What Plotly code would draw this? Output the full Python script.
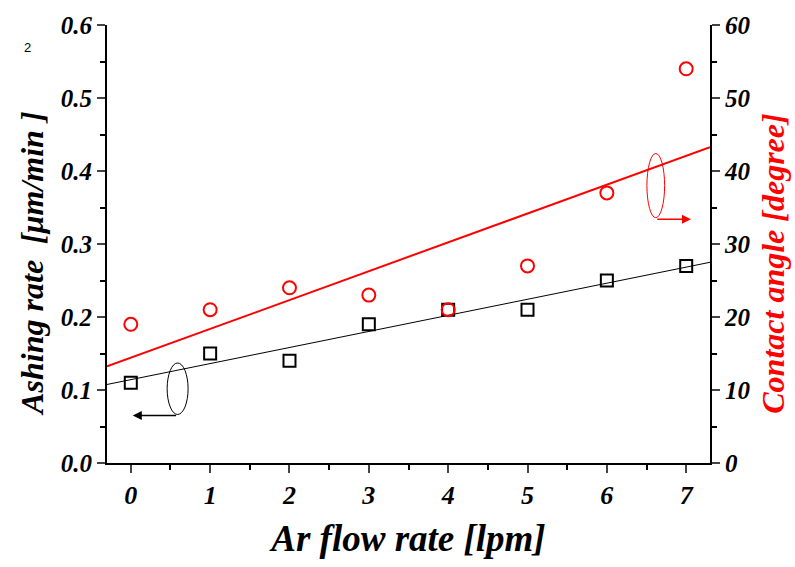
import numpy as np
import plotly.graph_objects as go

# Data
flow_rate = [0, 1, 2, 3, 4, 5, 6, 7]
ashing_rate = [0.11, 0.15, 0.14, 0.19, 0.21, 0.21, 0.25, 0.27]
contact_angle = [19, 21, 24, 23, 21, 27, 37, 54]

x_range = [-0.3, 7.3]
y1_range = [0, 0.6]
y2_range = [0, 60]

# Linear fits
p1 = np.polyfit(flow_rate, ashing_rate, 1)
p2 = np.polyfit(flow_rate, contact_angle, 1)
xf = np.array(x_range)

FONT = "Liberation Serif"
NB = "\u00a0"

# plot area in pixels (for paper-coordinate annotations)
L, R, T, B = 107, 85, 19, 104
PW, PH = 795 - L - R, 567 - T - B


def px(xp):
    return (xp - L) / PW


def py(yp):
    return (567 - B - yp) / PH


fig = go.Figure()
fig.add_trace(go.Scatter(x=xf, y=np.polyval(p2, xf), mode="lines",
                         line=dict(color="#ff0000", width=2), yaxis="y2", showlegend=False))
fig.add_trace(go.Scatter(x=xf, y=np.polyval(p1, xf), mode="lines",
                         line=dict(color="black", width=1), showlegend=False))
fig.add_trace(go.Scatter(x=flow_rate, y=ashing_rate, mode="markers",
                         marker=dict(symbol="square-open", size=12, color="black",
                                     line=dict(width=2, color="black")), showlegend=False))
fig.add_trace(go.Scatter(x=flow_rate, y=contact_angle, mode="markers", yaxis="y2",
                         marker=dict(symbol="circle-open", size=13, color="#ff0000",
                                     line=dict(width=2, color="#ff0000")), showlegend=False))


def bfont(size, color="black"):
    return dict(family=FONT, size=size, color=color, weight="bold", style="italic")


fig.update_layout(
    width=795, height=567,
    margin=dict(l=L, r=R, t=T, b=B),
    plot_bgcolor="white", paper_bgcolor="white",
    xaxis=dict(range=x_range, tickvals=flow_rate, ticks="outside", ticklen=8, tickwidth=2,
               showline=True, linecolor="black", linewidth=2, showgrid=False, zeroline=False,
               tickfont=bfont(26),
               minor=dict(dtick=0.5, tick0=0.5, ticks="outside", ticklen=5, tickwidth=2, tickcolor="black"),
               title=dict(text="Ar flow rate [lpm]", font=bfont(37), standoff=16)),
    yaxis=dict(range=y1_range, dtick=0.1, tickformat=".1f", ticks="outside", ticklen=8, tickwidth=2,
               showline=True, linecolor="black", linewidth=2, showgrid=False, zeroline=False,
               tickfont=bfont(25),
               minor=dict(dtick=0.05, ticks="outside", ticklen=5, tickwidth=2, tickcolor="black")),
    yaxis2=dict(range=y2_range, dtick=10, overlaying="y", side="right", ticks="outside", ticklen=8, tickwidth=2,
                showline=True, linecolor="black", linewidth=2, showgrid=False, zeroline=False,
                tickfont=bfont(25),
                minor=dict(dtick=5, ticks="outside", ticklen=5, tickwidth=2, tickcolor="black")),
)

# Y axis titles as rotated annotations
fig.add_annotation(xref="paper", yref="paper", x=px(32), y=py(261), xanchor="center", yanchor="middle",
                   textangle=-90, showarrow=False, text=f"Ashing rate {NB}[\u03bcm/min{NB}]", font=bfont(32))
fig.add_annotation(xref="paper", yref="paper", x=px(773), y=py(261), xanchor="center", yanchor="middle",
                   textangle=-90, showarrow=False, text="Contact angle [degree]", font=bfont(32, "#ff0000"))

# Ellipses marking which axis each series belongs to
fig.add_shape(type="circle", xref="x", yref="y", x0=0.458, x1=0.722, y0=0.0665, y1=0.137,
              line=dict(color="black", width=1))
fig.add_shape(type="circle", xref="x", yref="y2", x0=6.505, x1=6.728, y0=33.6, y1=42.4,
              line=dict(color="#ff0000", width=1))

fig.add_annotation(x=0.025, y=0.065, ax=0.59, ay=0.065, xref="x", yref="y", axref="x", ayref="y",
                   showarrow=True, arrowhead=2, arrowsize=1.2, arrowwidth=1.5, arrowcolor="black", text="")
fig.add_annotation(x=7.06, y=33.4, ax=6.617, ay=33.4, xref="x", yref="y2", axref="x", ayref="y2",
                   showarrow=True, arrowhead=2, arrowsize=1.2, arrowwidth=1.5, arrowcolor="#ff0000", text="")

fig.add_annotation(xref="paper", yref="paper", x=px(27), y=py(42),
                   xanchor="center", yanchor="middle", text="2", showarrow=False,
                   font=dict(family="Liberation Sans", size=13, color="black"))

fig.write_html("out.html")
